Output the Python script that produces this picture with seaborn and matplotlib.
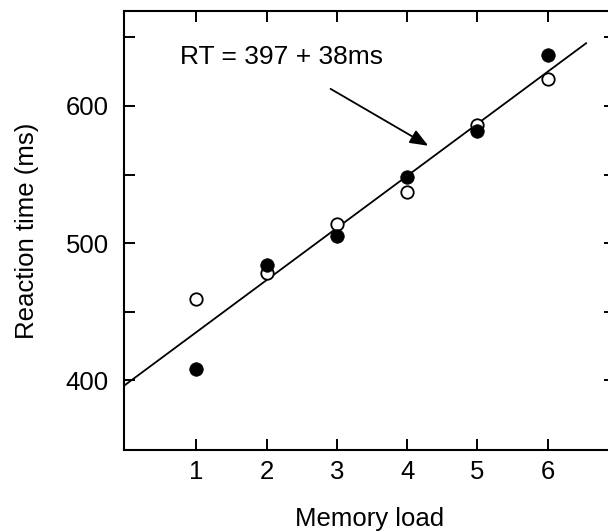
import numpy as np
import pandas as pd
import matplotlib
matplotlib.use("Agg")
import matplotlib.pyplot as plt
import seaborn as sns

# Mean reaction times per memory load, two conditions
memory_load = [1, 2, 3, 4, 5, 6]
rt_filled = [408, 484, 505, 548, 582, 637]
rt_open = [459, 478, 514, 537, 586, 620]

# Fitted line: RT = 397 + 38 * load
intercept = 397
slope = 38
equation_label = "RT = 397 + 38ms"

x_ticks = [1, 2, 3, 4, 5, 6]
y_ticks = [400, 450, 500, 550, 600, 650]
y_tick_labels = ["400", "", "500", "", "600", ""]

sns.set_theme(style="ticks")
plt.rcParams["font.family"] = ["Liberation Sans", "DejaVu Sans"]
plt.rcParams["text.color"] = "black"
plt.rcParams["axes.labelcolor"] = "black"

fig = plt.figure(figsize=(6.08, 5.32), dpi=100)
W, H = 608, 532
left, right, top, bottom = 124, 615, 11, 450
ax = fig.add_axes([left / W, (H - bottom) / H, (right - left) / W, (bottom - top) / H])

df = pd.DataFrame({
    "load": memory_load * 2,
    "rt": rt_filled + rt_open,
    "cond": ["filled"] * 6 + ["open"] * 6,
})

xmin, xmax = -0.03, 6.958
line_x = np.array([xmin, 6.55])
sns.lineplot(x=line_x, y=intercept + slope * line_x, ax=ax, color="black", lw=1.3)

sns.scatterplot(data=df[df.cond == "open"], x="load", y="rt", ax=ax, s=80,
                facecolor="white", edgecolor="black", linewidth=1.3, zorder=3)
sns.scatterplot(data=df[df.cond == "filled"], x="load", y="rt", ax=ax, s=95,
                color="black", edgecolor="black", linewidth=0.5, zorder=4)

ax.annotate("", xy=(4.30, 571), xytext=(2.91, 612.5),
            arrowprops=dict(arrowstyle="-|>,head_length=0.5,head_width=0.2",
                            color="black", lw=1.3,
                            mutation_scale=22, shrinkA=0, shrinkB=0))
ax.text(0.77, 636, equation_label, fontsize=19, va="center", ha="left", color="black")

ax.set_xlim(xmin, xmax)
ax.set_ylim(349, 669.3)
ax.set_xticks(x_ticks)
ax.set_yticks(y_ticks)
ax.set_yticklabels(y_tick_labels)
ax.tick_params(axis="both", direction="in", length=8, width=1.4, labelsize=18.5,
               top=True, right=True, colors="black")
ax.tick_params(axis="y", pad=11)
ax.tick_params(axis="x", pad=7)
for sp in ax.spines.values():
    sp.set_linewidth(1.5)
    sp.set_color("black")

ax.set_xlabel("Memory load", fontsize=18.5, labelpad=17)
ax.set_ylabel("Reaction time (ms)", fontsize=18.5, labelpad=19)

fig.savefig("out.png", dpi=100)
